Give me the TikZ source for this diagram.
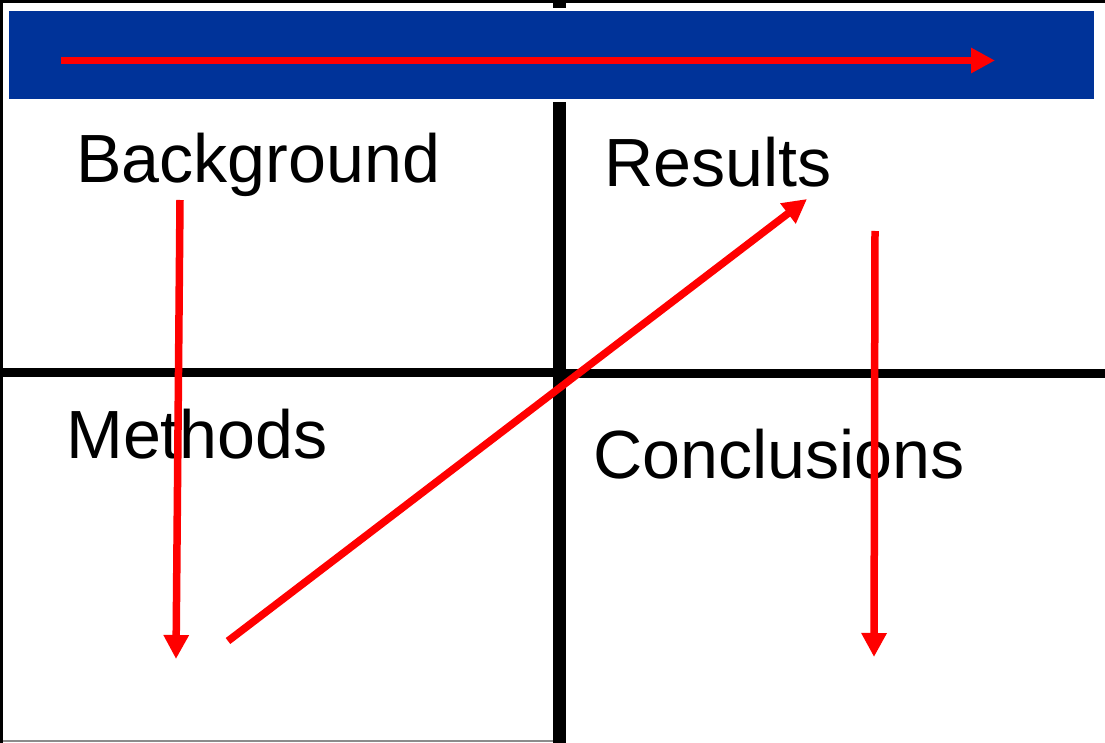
\documentclass[tikz,border=0pt]{standalone}
\usepackage{fontspec}
\setmainfont{Liberation Sans}
\usetikzlibrary{arrows.meta}
\definecolor{bandblue}{RGB}{0,51,153}
\definecolor{flowred}{RGB}{255,0,0}
\tikzset{
  rule/.style={fill=black},
  flow/.style={draw=flowred, line width=7.5pt, -{Triangle[length=24pt,width=24pt]}},
  label/.style={anchor=base west, inner sep=0pt, font=\fontsize{68.2}{80}\selectfont}
}
\begin{document}
\begin{tikzpicture}[x=1pt,y=-1pt]
  \useasboundingbox (0,0) rectangle (1105,743);
  \fill[white] (0,0) rectangle (1105,743);

  % grid rules
  \fill[rule] (0,0) rectangle (1105,3);
  \fill[rule] (0,0) rectangle (3,743);
  \fill[rule] (553,0) rectangle (566,743);
  \fill[rule] (0,368) rectangle (553,377);
  \fill[rule] (566,369) rectangle (1105,378);
  \fill[black!45] (3,740) rectangle (553,742);

  % title band
  \fill[white] (6,8) rectangle (1097,102);
  \fill[bandblue] (9,11) rectangle (1094,99);

  % section labels
  \node[label] (bg) at (76,183) {Background};
  \node[label] (res) at (604,187) {Results};
  \node[label] (meth) at (66,458) {Methods};
  \node[label] (conc) at (593,478) {Conclusions};

  % reading-order arrows
  \coordinate (a1s) at (61,60.5);
  \coordinate (a1e) at (995,60.5);
  \coordinate (a2s) at (180,200);
  \coordinate (a2e) at (176,659);
  \coordinate (a3s) at (228,641);
  \coordinate (a3e) at (807,199);
  \coordinate (a4s) at (875,231);
  \coordinate (a4e) at (874,657);
  \draw[flow] (a1s) -- (a1e);
  \draw[flow] (a2s) -- (a2e);
  \draw[flow] (a3s) -- (a3e);
  \draw[flow] (a4s) -- (a4e);
\end{tikzpicture}
\end{document}
